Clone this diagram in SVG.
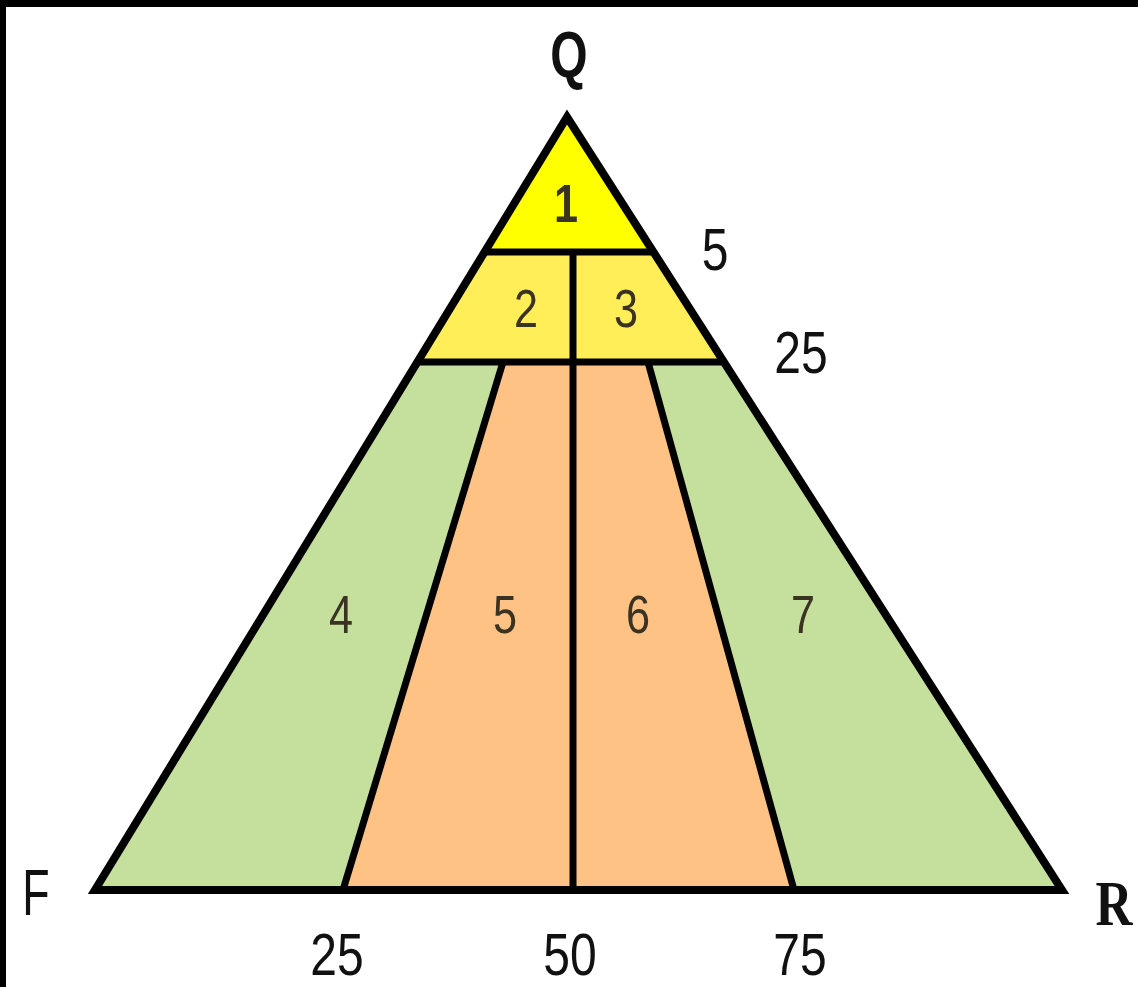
<svg xmlns="http://www.w3.org/2000/svg" width="1138" height="987" viewBox="0 0 1138 987">
  <style>
    .edge { fill: none; stroke: #000; stroke-width: 8; stroke-linejoin: miter; stroke-linecap: butt; }
    .div { fill: none; stroke: #000; stroke-width: 7; stroke-linecap: butt; }
    .lbl { font-family: "Liberation Sans", Arial, sans-serif; font-size: 60px; fill: #111; text-anchor: middle; }
    .num { font-family: "Liberation Sans", Arial, sans-serif; font-size: 54px; fill: #3a3222; text-anchor: middle; }
    .vtx { font-family: "Liberation Sans", Arial, sans-serif; font-size: 64px; font-weight: bold; fill: #111; text-anchor: middle; }
    .y1 { fill: #FFFF00; }
    .y2 { fill: #FFEE58; }
    .gr { fill: #C5DF9D; }
    .or { fill: #FFC285; }
  </style>
  <rect x="0" y="0" width="1138" height="987" fill="#fff"/>
  <rect x="0" y="0" width="1138" height="7" fill="#000"/>
  <rect x="0" y="0" width="6" height="987" fill="#000"/>

  <g id="region-1">
    <polygon class="y1" points="567,117 484.6,252 653.5,252"/>
    <text class="num" transform="translate(566,222) scale(0.8,1)" style="font-weight:bold">1</text>
  </g>
  <g id="region-2">
    <polygon class="y2" points="484.6,252 573,252 573,362 417.4,362"/>
    <text class="num" transform="translate(526,327) scale(0.8,1)">2</text>
  </g>
  <g id="region-3">
    <polygon class="y2" points="573,252 653.5,252 723.9,362 573,362"/>
    <text class="num" transform="translate(626,327) scale(0.8,1)">3</text>
  </g>
  <g id="region-4">
    <polygon class="gr" points="417.4,362 503,362 343,890 95,890"/>
    <text class="num" transform="translate(341,633) scale(0.8,1)">4</text>
  </g>
  <g id="region-5">
    <polygon class="or" points="503,362 573,362 573,890 343,890"/>
    <text class="num" transform="translate(505,633) scale(0.8,1)">5</text>
  </g>
  <g id="region-6">
    <polygon class="or" points="573,362 648,362 794,890 573,890"/>
    <text class="num" transform="translate(638,633) scale(0.8,1)">6</text>
  </g>
  <g id="region-7">
    <polygon class="gr" points="648,362 723.9,362 1062,890 794,890"/>
    <text class="num" transform="translate(803,633) scale(0.8,1)">7</text>
  </g>

  <g id="connectors">
    <line class="div" x1="484.6" y1="252" x2="653.5" y2="252"/>
    <line class="div" x1="417.4" y1="362" x2="723.9" y2="362"/>
    <line class="div" x1="573" y1="252" x2="573" y2="890"/>
    <line class="div" x1="503" y1="362" x2="343" y2="890"/>
    <line class="div" x1="648" y1="362" x2="794" y2="890"/>
    <polygon class="edge" points="567,117 1062,890 95,890"/>
  </g>

  <g id="labels">
    <text class="vtx" transform="translate(569,77) scale(0.75,1)">Q</text>
    <text class="lbl" transform="translate(36,915) scale(0.7,1)" style="font-size:64px">F</text>
    <text class="vtx" transform="translate(1114,925) scale(0.8,1)" style="font-family:'Liberation Serif',serif">R</text>
    <text class="lbl" transform="translate(715,270) scale(0.8,1)">5</text>
    <text class="lbl" transform="translate(801,373) scale(0.8,1)">25</text>
    <text class="lbl" transform="translate(337,975) scale(0.8,1)">25</text>
    <text class="lbl" transform="translate(570,975) scale(0.8,1)">50</text>
    <text class="lbl" transform="translate(800,975) scale(0.8,1)">75</text>
  </g>
</svg>
